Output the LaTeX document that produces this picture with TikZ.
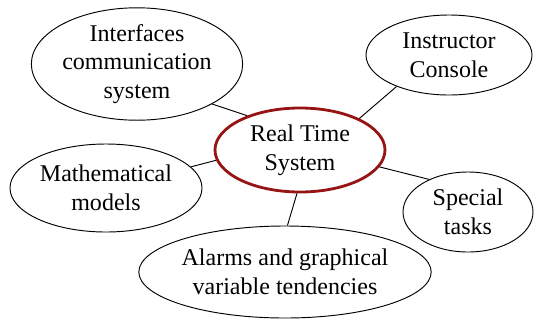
\documentclass[tikz,border=0pt]{standalone}
\usepackage{fontspec}
\setmainfont{Liberation Serif}
\newfontfamily\topicfont{Liberation Serif}
\usetikzlibrary{shapes.geometric}
\definecolor{rtsred}{RGB}{150,20,20}

\begin{document}
\begin{tikzpicture}[x=0.03cm, y=-0.03cm,
      topic/.style={draw=black, ellipse, inner sep=0pt, line width=0.8pt,
                    align=center, font=\topicfont\fontsize{20.5}{24.5}\selectfont},
      core/.style={topic, draw=rtsred, line width=2.4pt},
      link/.style={draw=black, line width=0.8pt},
    ]
    \useasboundingbox (0,0) rectangle (534,324);
    \node[core, minimum width=5.1cm, minimum height=2.52cm] (r) at (300,150) {Real Time\\System};
    \node[topic, minimum width=6cm, minimum height=3.24cm] (i) at (137,64) {Interfaces\\communication\\system};
    \node[topic, minimum width=4.98cm, minimum height=2.4cm] (c) at (449,55) {Instructor\\Console};
    \node[topic, minimum width=5.76cm, minimum height=2.64cm] (m) at (106,188) {Mathematical\\models};
    \node[topic, minimum width=3.9cm, minimum height=2.4cm] (s) at (468,212) {Special\\tasks};
    \node[topic, minimum width=8.7cm, minimum height=2.76cm] (a) at (285,272) {Alarms and graphical\\variable tendencies};

    \draw[link] (i.-28) -- (r.147);
    \draw[link] (c.-149) -- (r.28);
    \draw[link] (m.14) -- (r.187);
    \draw[link] (s.140) -- (r.-12);
    \draw[link] (a.87) -- (r.-94);
  \end{tikzpicture}
\end{document}
